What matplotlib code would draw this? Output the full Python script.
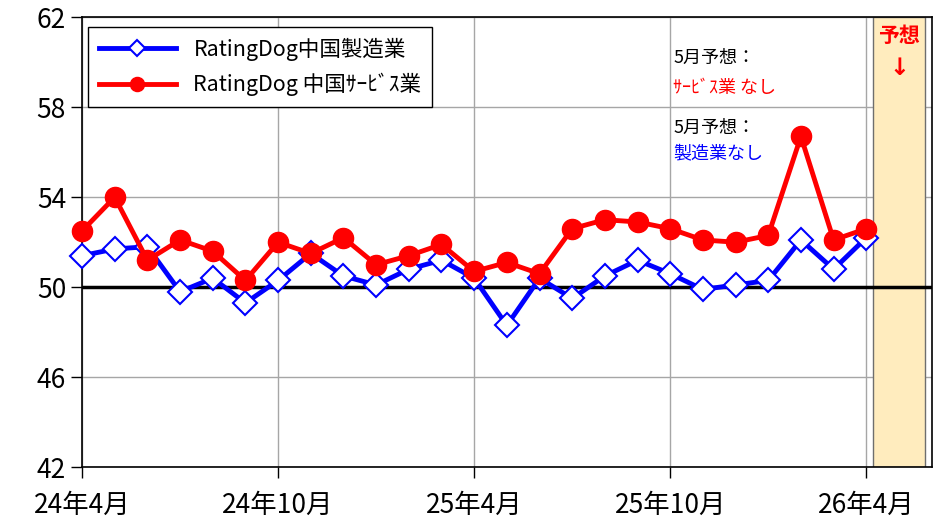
import matplotlib
matplotlib.use("Agg")
import matplotlib.pyplot as plt
import numpy as np

plt.rcParams["font.family"] = ["Noto Sans CJK JP", "DejaVu Sans"]

# monthly PMI, 24年4月 .. 26年4月
months = np.arange(25)
manufacturing = [51.4, 51.7, 51.8, 49.8, 50.4, 49.3, 50.3, 51.5, 50.5, 50.1,
                 50.8, 51.2, 50.4, 48.3, 50.4, 49.5, 50.5, 51.2, 50.6, 49.9,
                 50.1, 50.3, 52.1, 50.8, 52.2]
services = [52.5, 54.0, 51.2, 52.1, 51.6, 50.3, 52.0, 51.5, 52.2, 51.0,
            51.4, 51.9, 50.7, 51.1, 50.6, 52.6, 53.0, 52.9, 52.6, 52.1,
            52.0, 52.3, 56.7, 52.1, 52.6]
tick_pos = [0, 6, 12, 18, 24]
tick_labels = ["24年4月", "24年10月", "25年4月", "25年10月", "26年4月"]
y_ticks = [42, 46, 50, 54, 58, 62]

fig = plt.figure(figsize=(9.44, 5.22), dpi=100)
ax = fig.add_axes([0.0869, 0.105, 0.9, 0.862])

# forecast band
ax.axvspan(24.2, 25.8, facecolor="#FFECBE", edgecolor="#6e6e6e", lw=1.0, zorder=1)
ax.axhline(50, color="black", lw=2.5, zorder=2)

ax.plot(months, manufacturing, color="#0000FF", lw=3.5, marker="D", ms=12,
        mfc="white", mec="#0000FF", mew=1.5, zorder=3, clip_on=False,
        label="RatingDog中国製造業")
ax.plot(months, services, color="#FF0000", lw=3.5, marker="o", ms=14.5,
        zorder=4, clip_on=False, label="RatingDog 中国ｻｰﾋﾞｽ業")

ax.set_xlim(0, 26)
ax.set_ylim(42, 62)
ax.set_yticks(y_ticks)
ax.set_xticks(tick_pos)
ax.set_xticklabels(tick_labels)
ax.tick_params(axis="both", labelsize=19, direction="out", length=8, width=1)
ax.tick_params(axis="x", pad=10)
ax.grid(color="#a6a6a6", lw=1)
ax.set_axisbelow(True)
for s in ax.spines.values():
    s.set_color("black")
    s.set_linewidth(1.2)

leg = ax.legend(loc="upper left", bbox_to_anchor=(0.007, 0.978), borderaxespad=0,
                fontsize=15.5, frameon=True, fancybox=False, handlelength=3.6,
                markerscale=0.7, borderpad=0.5, labelspacing=0.55, framealpha=1)
leg.get_frame().set_edgecolor("black")
leg.get_frame().set_linewidth(1.0)

ax.text(18.1, 60.2, "5月予想：", fontsize=13, color="black", va="center")
ax.text(18.1, 58.85, "ｻｰﾋﾞｽ業 なし", fontsize=13, color="#FF0000", va="center")
ax.text(18.1, 57.1, "5月予想：", fontsize=13, color="black", va="center")
ax.text(18.1, 55.95, "製造業なし", fontsize=13, color="#0000FF", va="center")
ax.text(25.0, 61.2, "予想", fontsize=15, color="#FF0000", fontweight="bold",
        ha="center", va="center")
ax.text(25.0, 59.75, "↓", fontsize=17, color="#FF0000", fontweight="bold",
        ha="center", va="center", family=["DejaVu Sans"])

fig.savefig("out.png", dpi=100)
